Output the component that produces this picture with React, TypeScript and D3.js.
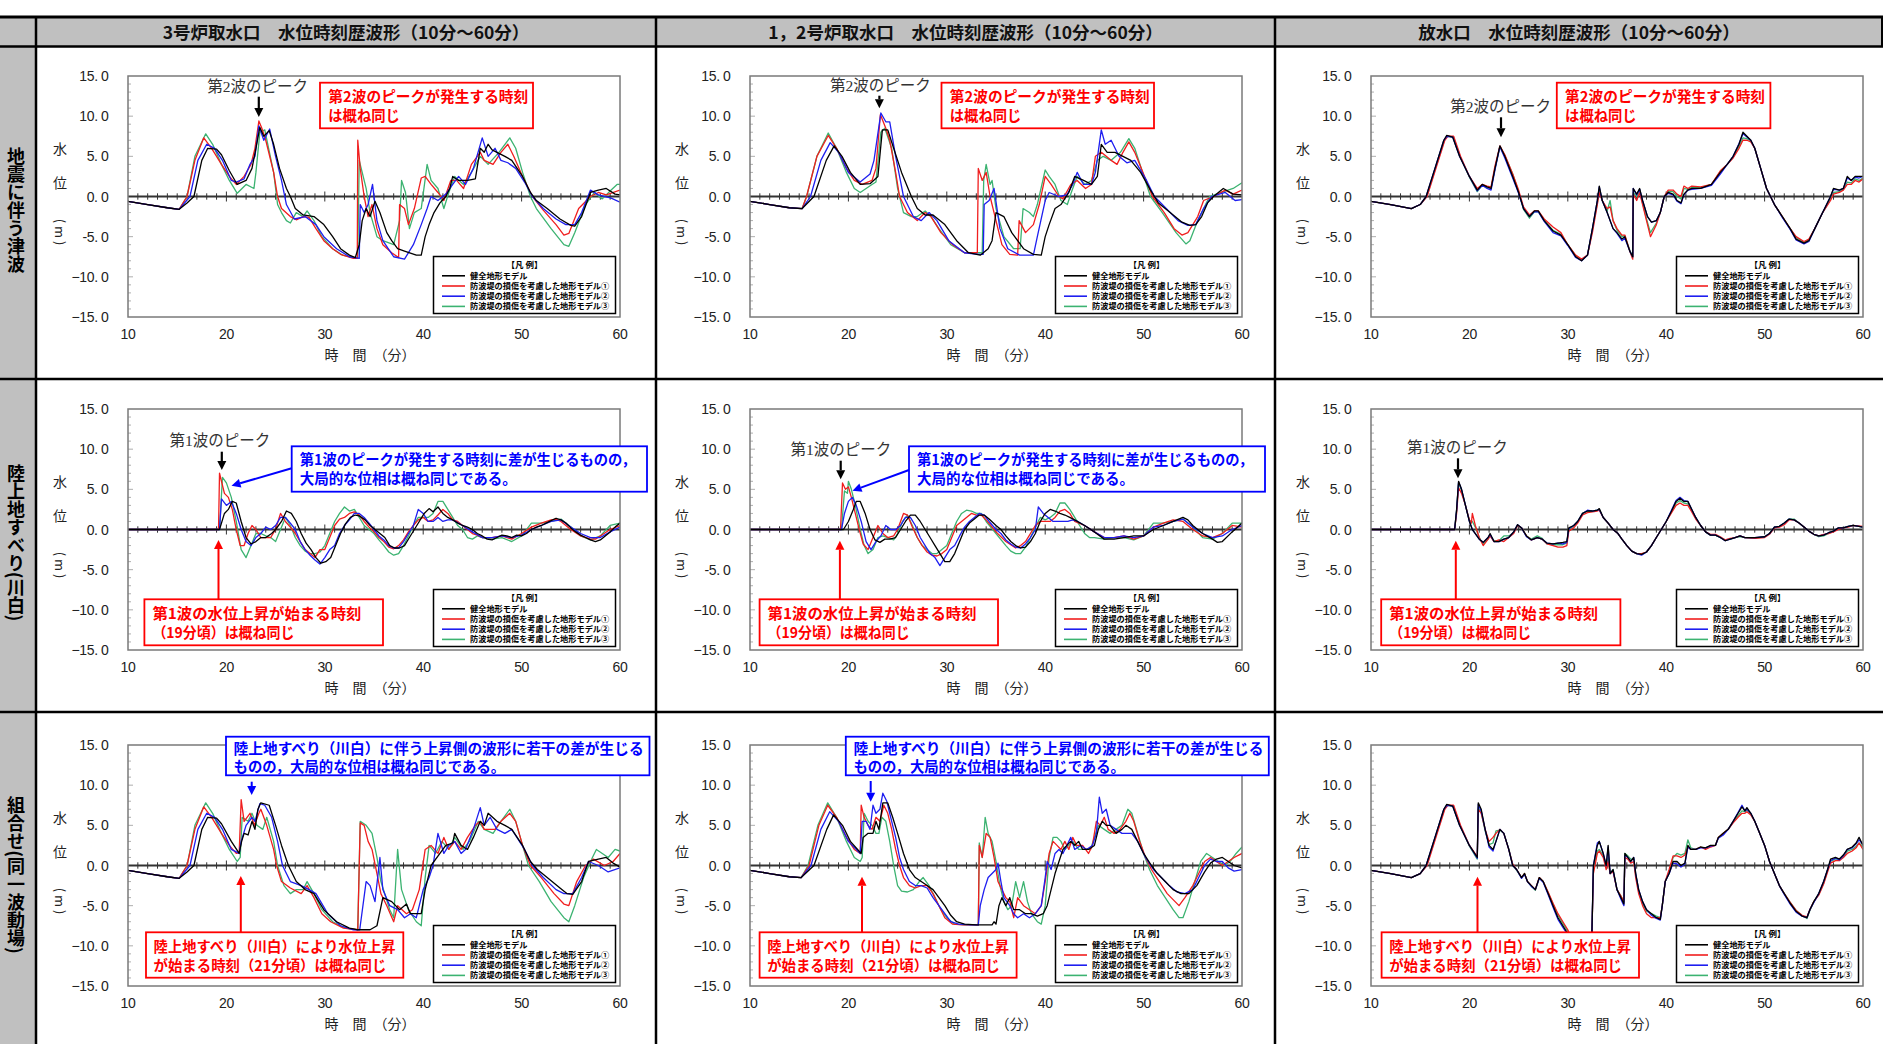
import React from 'react';
import * as d3 from 'd3';

const W = 1883, H = 1044;
const PW = 492, PH = 241;
const colX = [128, 750, 1371];
const rowY = [76, 409, 745];
const colLines = [36, 656, 1275];

const seriesNames = ['健全地形モデル', '防波堤の損傷を考慮した地形モデル①', '防波堤の損傷を考慮した地形モデル②', '防波堤の損傷を考慮した地形モデル③'];
const seriesColors = ['#000000', '#f01e1e', '#1e1ef0', '#3cb371'];
const drawOrder = [3, 1, 2, 0];
const yTickValues = [15, 10, 5, 0, -5, -10, -15];
const yTickLabels = ['15. 0', '10. 0', '5. 0', '0. 0', '-5. 0', '−10. 0', '−15. 0'];
const xTickValues = [10, 20, 30, 40, 50, 60];
const columnTitles = ['3号炉取水口　水位時刻歴波形（10分～60分）', '1，2号炉取水口　水位時刻歴波形（10分～60分）', '放水口　水位時刻歴波形（10分～60分）'];
const rowTitles = ['地震に伴う津波', '陸上地すべり(川白)', '組合せ(同一波動場)'];

// ---- Row 1: 地震に伴う津波 ----
const p1Black = [10,-0.6, 12,-1.0, 14,-1.4, 15.2,-1.6, 16,-0.8, 16.7,0, 17.5,4.5, 18.1,6.0, 19.0,5.9, 19.5,5.2, 20.3,3.2, 21.1,1.5, 22.0,2.0, 22.6,3.5, 23.0,6.0, 23.4,8.6, 23.8,7.5, 24.35,8.2, 24.8,6.5, 25.4,3.5, 26.1,1.0, 26.5,0, 27.0,-1.5, 27.8,-2.3, 28.9,-2.5, 29.9,-3.5, 30.8,-5.0, 31.6,-6.5, 32.5,-7.3, 33.1,-7.6, 33.5,-6.0, 33.8,-3.0, 34.2,-1.5, 34.6,-2.5, 35.1,-0.6, 35.6,-2.0, 36.3,-4.5, 36.8,-5.5, 37.4,-6.5, 38.1,-6.8, 39.3,-7.3, 39.8,-7.3, 40.2,-5.0, 40.6,-3.5, 41.1,-2.0, 41.7,-0.8, 42.3,0, 42.7,1.0, 43.0,2.5, 43.6,2.0, 44.5,2.0, 45.3,2.2, 45.8,6.0, 46.2,5.5, 46.6,6.5, 47.0,5.8, 47.5,5.5, 48.3,5.0, 49.0,4.5, 50.1,2.5, 50.9,0.5, 51.5,-0.5, 52.6,-1.5, 53.9,-2.8, 55.0,-3.6, 55.4,-3.7, 56.1,-2.5, 57.0,0.5, 57.8,0.8, 58.6,1.0, 59.5,0.3, 60,0.2];
const p1Red = [10,-0.6, 12,-1.0, 14,-1.4, 15.2,-1.6, 16.0,0, 16.8,4.5, 17.7,7.3, 18.5,6.0, 19.5,4.0, 20.3,2.5, 21.0,1.5, 21.8,2.5, 22.5,4.0, 22.9,6.0, 23.3,9.4, 23.6,8.5, 24.0,7.0, 24.8,3.0, 25.2,0, 25.6,-1.5, 26.5,-2.5, 27.1,-2.9, 27.8,-2.5, 28.4,-2.6, 29.1,-4.0, 29.9,-5.5, 30.8,-6.5, 31.6,-7.2, 32.9,-7.7, 33.3,-7.7, 33.35,7.0, 33.6,3.5, 34.0,0, 34.4,-2.5, 34.8,-1.0, 35.3,-4.0, 35.9,-6.0, 36.8,-7.0, 37.5,-7.6, 37.6,-1.0, 38.1,-1.5, 38.5,-3.5, 39.1,-1.5, 39.8,2.3, 40.2,2.5, 40.8,1.5, 41.5,0.5, 42.1,-0.5, 42.8,2.0, 43.4,2.0, 44.1,1.0, 44.9,4.0, 45.8,5.5, 46.2,4.5, 47.1,4.0, 47.9,5.5, 48.6,6.5, 49.2,5.0, 50.1,2.5, 51.1,0, 52.2,-1.7, 53.5,-3.5, 54.3,-4.8, 54.8,-4.6, 55.8,-1.5, 57.0,0, 57.8,0.5, 58.6,0.2, 60,0.8];
const p1Blue = [10,-0.6, 12,-1.0, 14,-1.4, 15.2,-1.6, 16.3,0, 17.1,4.5, 18.0,6.5, 18.8,6.0, 19.6,4.5, 20.5,2.0, 21.0,1.8, 21.8,2.2, 22.4,4.0, 22.9,5.0, 23.3,8.8, 23.8,7.0, 24.4,8.4, 25.0,5.0, 25.6,2.0, 26.1,-1.0, 26.9,-2.8, 28.0,-2.5, 29.1,-3.5, 29.9,-5.0, 31.2,-6.5, 32.5,-7.5, 33.5,-7.7, 33.6,-1.0, 34.0,-2.0, 34.4,-1.0, 34.85,1.5, 35.3,-3.0, 35.9,-5.5, 37.0,-7.5, 38.1,-7.8, 39.0,-6.0, 39.8,-3.5, 40.4,-1.5, 40.8,0, 41.5,-0.5, 42.3,0.3, 43.0,1.5, 43.6,2.5, 44.3,1.5, 45.1,3.5, 46.0,7.3, 46.6,5.0, 47.3,6.0, 47.9,4.5, 48.6,4.2, 49.4,3.5, 50.3,1.8, 51.1,0, 52.2,-1.5, 53.5,-2.8, 54.5,-3.5, 55.4,-3.5, 56.1,-2.0, 57.0,0.8, 57.8,0.2, 59.1,-0.2, 60,-0.7];
const p1Green = [10,-0.6, 12,-1.0, 14,-1.4, 15.2,-1.6, 16.0,0, 16.8,5.0, 17.9,7.8, 18.6,6.5, 19.5,4.0, 20.3,2.0, 21.1,0.4, 22.0,1.5, 22.8,1.0, 23.0,3.0, 23.4,8.0, 23.9,8.3, 24.8,3.0, 25.2,-1.0, 25.6,-2.0, 26.1,-3.0, 26.5,-3.3, 27.1,-2.0, 27.8,-2.5, 28.2,-1.8, 28.9,-3.0, 29.7,-5.0, 30.8,-6.5, 31.8,-7.3, 32.9,-7.6, 33.35,-7.6, 33.5,4.5, 33.8,3.0, 34.2,1.0, 34.6,-2.0, 35.3,-5.0, 35.9,-5.5, 37.0,-6.0, 37.6,-3.0, 37.8,2.0, 38.2,0.5, 38.6,-4.0, 39.1,-2.0, 39.8,-1.5, 40.4,4.0, 40.8,2.0, 41.5,1.0, 42.1,-1.5, 42.6,0.5, 43.2,2.5, 44.1,1.5, 44.9,3.0, 45.8,5.0, 46.6,4.0, 47.7,5.5, 48.8,7.3, 49.4,6.0, 50.1,3.0, 50.9,0, 51.5,-1.5, 53.0,-4.0, 54.3,-6.0, 54.8,-6.2, 55.4,-4.5, 56.5,-1.0, 57.4,0.5, 58.2,-0.3, 59.1,0.8, 59.7,1.5, 60,1.5];

const p2Black = [10,-0.6, 12,-1.0, 14,-1.4, 15.3,-1.5, 16.5,0, 17.75,4.5, 18.55,6.3, 19.35,5.0, 20.2,3.0, 21.2,1.5, 22.2,1.6, 23.0,2.5, 23.45,8.3, 24.0,8.3, 24.6,6.0, 25.4,3.0, 26.4,0, 27.0,-1.5, 27.8,-2.3, 28.6,-2.3, 29.8,-3.5, 31.0,-5.5, 32.2,-7.0, 33.4,-7.3, 34.2,-6.5, 34.6,-5.5, 35.0,-2.0, 35.8,-2.5, 36.6,-4.5, 37.8,-6.5, 38.8,-7.2, 39.6,-7.3, 40.0,-5.0, 40.4,-3.5, 41.0,-1.5, 41.6,-1.0, 42.4,0.5, 43.0,2.5, 43.9,2.0, 44.7,1.5, 45.3,2.5, 45.7,6.5, 46.3,5.5, 47.1,5.5, 47.9,5.0, 48.7,4.5, 49.7,3.0, 50.7,0.8, 51.5,-0.8, 52.7,-2.0, 53.9,-3.2, 54.7,-3.6, 55.3,-3.5, 55.9,-2.5, 56.5,-0.8, 57.1,0, 58.1,1.0, 59.1,0.3, 60,0.2];
const p2Red = [10,-0.6, 12,-1.0, 14,-1.4, 15.3,-1.5, 15.75,0, 16.8,5.0, 17.95,7.6, 18.8,6.0, 19.8,3.5, 20.6,2.0, 21.4,1.5, 22.4,2.0, 22.8,3.5, 23.25,10.2, 23.8,8.5, 24.2,7.0, 24.8,3.0, 25.2,0, 26.0,-2.0, 27.0,-3.0, 27.8,-2.0, 28.4,-2.5, 29.4,-4.5, 30.6,-6.0, 31.8,-7.0, 33.1,-7.0, 33.2,3.5, 33.6,2.0, 34.0,3.0, 34.4,0, 35.0,-3.0, 35.6,-6.0, 36.4,-7.2, 37.2,-7.3, 37.35,-3.0, 38.0,-4.5, 38.8,-3.5, 39.4,-1.0, 40.0,2.5, 40.6,1.5, 41.4,0, 41.8,-0.3, 42.6,1.5, 43.25,2.0, 44.1,1.0, 44.7,1.5, 45.1,5.0, 45.7,5.5, 46.7,4.5, 47.3,4.0, 47.9,5.5, 48.5,6.8, 49.1,5.5, 50.1,2.5, 50.9,0, 52.1,-2.0, 53.1,-4.0, 53.9,-4.8, 54.5,-4.5, 55.5,-2.5, 56.1,-0.5, 57.1,0, 58.3,0.8, 59.1,0.3, 60,0.8];
const p2Blue = [10,-0.6, 12,-1.0, 14,-1.4, 15.3,-1.5, 16.15,0, 17.2,4.5, 18.15,6.7, 19.0,5.5, 20.0,3.0, 21.2,1.8, 22.2,2.8, 22.6,4.5, 23.3,10.4, 23.8,9.3, 24.2,9.3, 24.8,5.0, 25.2,2.5, 25.6,0, 26.6,-2.5, 27.4,-3.0, 28.2,-2.0, 29.0,-3.0, 30.2,-5.5, 31.8,-7.0, 33.2,-7.2, 33.7,-7.2, 33.8,-1.0, 34.3,-0.5, 34.8,1.0, 35.4,-4.0, 36.2,-6.5, 37.4,-7.3, 38.8,-7.3, 39.2,-5.0, 40.0,-0.5, 40.4,0.5, 41.4,0, 42.2,0.2, 42.8,1.5, 43.25,3.0, 43.9,1.5, 44.7,1.5, 45.1,3.0, 45.7,8.3, 46.1,6.5, 46.7,7.0, 47.5,5.0, 48.3,4.2, 49.1,4.5, 50.3,2.0, 51.1,0, 52.3,-1.5, 53.5,-3.0, 54.5,-3.6, 55.3,-3.5, 56.1,-1.5, 56.9,0, 58.3,0.5, 59.3,-0.5, 60,-0.4];
const p2Green = [10,-0.6, 12,-1.0, 14,-1.4, 15.3,-1.5, 15.75,0, 16.8,5.0, 17.95,7.9, 18.8,6.0, 19.8,3.0, 20.6,1.0, 21.2,0.5, 22.4,1.5, 22.8,1.8, 23.3,8.0, 23.7,8.5, 24.4,6.0, 25.0,1.0, 25.6,-2.0, 26.4,-2.5, 27.0,-2.5, 27.8,-1.8, 28.4,-2.5, 29.2,-4.0, 30.4,-6.0, 31.8,-7.0, 33.6,-7.0, 33.75,2.0, 34.0,4.0, 34.4,1.5, 34.6,2.0, 35.0,-1.5, 35.8,-5.0, 36.8,-6.5, 37.45,-6.5, 37.75,-1.5, 38.4,-2.0, 38.8,-2.5, 39.2,-1.0, 40.0,3.3, 40.4,2.5, 41.0,1.5, 41.6,-0.5, 42.25,-1.0, 42.65,0.5, 43.25,2.5, 44.05,1.5, 44.7,2.0, 45.3,4.5, 45.9,5.0, 46.7,4.5, 47.65,5.5, 48.5,7.2, 49.1,6.0, 49.9,3.0, 50.7,0, 51.9,-2.0, 53.3,-4.5, 54.3,-5.9, 54.7,-5.5, 55.5,-3.0, 56.7,0, 57.9,0.5, 59.1,1.0, 60,1.7];

const p3Black = [10,-0.6, 12,-1.0, 14.1,-1.5, 15.0,-1.0, 15.6,0, 16.5,3.5, 17.4,7.0, 17.7,7.6, 18.3,7.4, 19.0,5.0, 20.0,2.5, 20.8,0.8, 21.3,1.5, 21.8,1.2, 22.2,1.0, 22.6,3.5, 23.1,6.3, 23.6,5.0, 24.4,2.5, 25.0,0.5, 25.5,-1.5, 26.1,-2.5, 26.6,-1.8, 27.0,-1.8, 27.6,-3.0, 28.5,-4.3, 29.3,-4.8, 30.0,-6.0, 30.8,-7.5, 31.4,-8.0, 32.0,-7.3, 32.5,-4.0, 33.0,-0.5, 33.2,1.3, 33.5,-0.5, 34.0,-2.0, 34.6,-4.0, 35.0,-4.5, 35.5,-5.3, 35.8,-5.0, 36.3,-6.8, 36.6,-7.5, 36.65,1.0, 37.0,0.3, 37.3,1.0, 37.6,-0.5, 38.1,-2.5, 38.5,-3.2, 39.0,-3.0, 39.4,-2.0, 39.8,0, 40.2,0.5, 40.7,0.3, 41.1,-0.5, 41.5,-0.8, 41.8,0.3, 42.2,0.8, 42.6,1.0, 43.5,1.0, 44.6,1.5, 45.5,3.0, 46.2,4.0, 46.8,5.0, 47.4,6.5, 47.8,8.0, 48.2,7.5, 48.6,7.0, 49.0,6.0, 49.6,3.5, 50.2,1.0, 51.0,-1.0, 51.8,-2.5, 52.6,-4.0, 53.2,-5.3, 54.0,-5.8, 54.5,-5.5, 55.1,-4.0, 55.9,-2.0, 56.7,0, 57.0,1.0, 57.6,0.8, 58.0,1.0, 58.4,2.5, 58.8,2.0, 59.2,2.5, 59.6,2.5, 60,2.5];
const p3Red = [10,-0.6, 12,-1.0, 14.1,-1.5, 15.0,-1.0, 15.7,0, 16.6,3.5, 17.5,7.0, 17.8,7.5, 18.4,7.5, 19.1,5.0, 20.0,2.5, 20.8,1.0, 21.3,1.5, 21.8,1.3, 22.2,1.2, 22.6,3.8, 23.1,6.3, 23.6,5.2, 24.4,2.8, 25.0,0.8, 25.5,-1.3, 26.1,-2.3, 26.6,-1.8, 27.0,-1.8, 27.6,-2.8, 28.5,-3.8, 29.3,-4.5, 30.0,-6.0, 30.8,-7.3, 31.4,-7.8, 32.0,-7.3, 32.5,-4.5, 33.0,-1.0, 33.2,0.5, 33.5,-0.5, 34.0,-1.5, 34.3,-1.3, 34.6,-3.0, 35.0,-4.0, 35.5,-4.8, 35.8,-4.8, 36.3,-6.8, 36.6,-7.8, 36.65,0.3, 37.0,-0.5, 37.3,0.5, 37.6,-1.0, 38.0,-3.0, 38.4,-5.0, 39.0,-3.5, 39.4,-2.0, 39.8,0, 40.2,0.8, 40.7,0.8, 41.1,0.3, 41.5,0, 41.8,1.3, 42.2,1.0, 42.6,1.3, 43.5,1.2, 44.6,1.5, 45.5,3.2, 46.2,4.0, 46.8,4.8, 47.4,6.0, 47.8,7.0, 48.2,7.0, 48.6,6.8, 49.0,6.0, 49.6,3.5, 50.2,1.0, 51.0,-1.0, 51.8,-2.5, 52.6,-4.0, 53.2,-5.0, 54.0,-5.6, 54.5,-5.3, 55.1,-4.0, 55.9,-2.0, 56.7,-0.5, 57.0,0.3, 57.6,0.5, 58.0,0.8, 58.4,1.5, 58.8,1.5, 59.2,2.0, 59.6,1.8, 60,2.2];
const p3Blue = [10,-0.6, 12,-1.0, 14.1,-1.5, 15.0,-1.0, 15.6,0, 16.5,3.5, 17.4,7.0, 17.7,7.5, 18.3,7.4, 19.0,5.0, 20.0,2.5, 20.8,0.7, 21.3,1.4, 21.8,1.0, 22.2,0.8, 22.6,3.3, 23.1,6.2, 23.6,4.8, 24.4,2.3, 25.0,0.4, 25.5,-1.5, 26.1,-2.5, 26.6,-1.9, 27.0,-1.9, 27.6,-3.1, 28.5,-4.5, 29.3,-4.9, 30.0,-6.1, 30.8,-7.6, 31.4,-8.0, 32.0,-7.3, 32.5,-4.0, 33.0,-0.5, 33.2,1.2, 33.5,-0.5, 34.0,-2.0, 34.6,-4.0, 35.0,-4.6, 35.5,-5.5, 35.8,-5.2, 36.3,-6.8, 36.6,-7.5, 36.65,1.0, 37.0,0.2, 37.3,0.9, 37.6,-0.5, 38.1,-2.5, 38.5,-3.2, 39.0,-3.0, 39.4,-2.0, 39.8,0, 40.2,0.4, 40.7,0.2, 41.1,-0.6, 41.5,-0.9, 41.8,0.2, 42.2,0.8, 42.6,0.9, 43.5,1.0, 44.6,1.4, 45.5,2.8, 46.2,4.0, 46.8,5.0, 47.4,6.6, 47.8,7.8, 48.2,7.4, 48.6,7.0, 49.0,6.0, 49.6,3.5, 50.2,1.0, 51.0,-1.0, 51.8,-2.6, 52.6,-4.1, 53.2,-5.4, 54.0,-5.9, 54.5,-5.6, 55.1,-4.0, 55.9,-2.0, 56.7,0, 57.0,0.9, 57.6,0.8, 58.0,1.0, 58.4,2.3, 58.8,2.0, 59.2,2.4, 59.6,2.3, 60,2.5];
const p3Green = [10,-0.6, 12,-1.0, 14.1,-1.5, 15.0,-1.0, 15.65,0, 16.55,3.5, 17.45,7.0, 17.75,7.5, 18.35,7.4, 19.05,5.0, 20.0,2.4, 20.8,0.6, 21.3,1.4, 21.8,1.1, 22.2,1.0, 22.6,3.5, 23.1,6.2, 23.6,5.1, 24.4,2.8, 25.0,0.6, 25.5,-1.6, 26.1,-2.7, 26.6,-1.9, 27.0,-1.9, 27.6,-3.0, 28.5,-4.2, 29.3,-4.7, 30.0,-6.0, 30.8,-7.4, 31.4,-7.9, 32.0,-7.3, 32.5,-4.2, 33.0,-0.8, 33.2,0.8, 33.5,-0.5, 34.0,-1.8, 34.3,-0.5, 34.6,-3.0, 35.0,-4.2, 35.5,-5.0, 35.8,-4.9, 36.3,-6.7, 36.6,-7.6, 36.65,0.5, 37.0,0, 37.3,0.6, 37.6,-0.8, 38.0,-2.8, 38.4,-4.5, 39.0,-3.3, 39.4,-2.0, 39.8,0, 40.2,0.6, 40.7,0.6, 41.1,0, 41.5,-0.3, 41.8,1.0, 42.2,0.9, 42.6,1.1, 43.5,1.1, 44.6,1.5, 45.5,3.1, 46.2,4.0, 46.8,4.9, 47.4,6.2, 47.8,7.3, 48.2,7.2, 48.6,6.9, 49.0,6.0, 49.6,3.5, 50.2,1.0, 51.0,-1.0, 51.8,-2.5, 52.6,-4.0, 53.2,-5.1, 54.0,-5.7, 54.5,-5.4, 55.1,-4.0, 55.9,-2.0, 56.7,-0.3, 57.0,0.5, 57.6,0.6, 58.0,0.9, 58.4,1.8, 58.8,1.7, 59.2,2.2, 59.6,2.0, 60,2.3];

// ---- Row 2: 陸上地すべり（川白） ----
const p4Black = [10,0, 19.3,0, 19.8,2.0, 20.2,2.5, 20.6,3.5, 21.0,3.3, 21.5,1.0, 22.0,-1.0, 22.5,-1.8, 23.0,-1.5, 23.5,-1.0, 24.0,-1.0, 24.6,-0.5, 25.0,0, 25.6,1.0, 26.1,2.3, 26.6,2.0, 27.1,1.0, 27.6,-0.5, 28.1,-1.7, 28.6,-2.5, 29.1,-3.5, 29.6,-4.2, 30.1,-4.0, 30.6,-3.5, 31.1,-2.0, 31.6,-0.5, 32.1,0.7, 32.6,1.5, 33.1,1.8, 33.5,1.7, 34.1,1.2, 34.6,0.5, 35.1,0, 35.6,-0.5, 36.1,-1.0, 36.6,-2.0, 37.1,-2.3, 37.6,-2.3, 38.1,-2.0, 38.6,-1.0, 39.1,0, 39.6,1.0, 40.1,2.0, 40.6,2.6, 41.0,2.2, 41.5,2.8, 42.0,2.0, 42.5,1.5, 43.0,1.2, 43.5,0.8, 44.0,0.5, 44.5,0.3, 45.0,0, 45.5,-0.5, 46.0,-0.8, 46.5,-1.2, 47.0,-1.3, 47.5,-1.0, 48.0,-0.7, 48.5,-0.8, 49.0,-1.0, 49.5,-0.7, 50.0,-0.8, 50.5,-0.5, 51.0,0, 51.5,0.3, 52.0,0.5, 52.5,0.8, 53.0,1.1, 53.5,1.4, 54.0,1.2, 54.5,0.8, 55.0,0.2, 55.5,-0.3, 56.0,-0.7, 56.5,-1.0, 57.0,-1.3, 57.5,-1.5, 58.0,-1.3, 58.5,-0.8, 59.0,-0.3, 59.5,0.3, 60,0.8];
const p4Red = [10,0, 19.2,0, 19.3,7.0, 19.8,4.5, 20.2,4.0, 20.6,2.5, 21.0,0, 21.4,-2.0, 21.8,-2.0, 22.2,-0.5, 22.6,0.5, 23.0,0, 23.5,-1.0, 24.0,-1.0, 24.5,-1.0, 25.0,0, 25.5,2.0, 26.0,1.0, 26.5,0.3, 27.0,-0.5, 27.5,-1.5, 28.0,-2.5, 28.5,-3.0, 29.0,-3.5, 29.5,-2.5, 30.0,-2.5, 30.5,-1.0, 31.0,0.5, 31.5,1.3, 32.0,1.5, 32.5,2.0, 33.0,2.2, 33.5,1.8, 34.0,1.0, 34.5,0.3, 35.0,-0.3, 35.5,-1.0, 36.0,-1.5, 36.5,-2.2, 37.0,-2.4, 37.5,-2.0, 38.0,-1.3, 38.5,-0.3, 39.0,0.5, 39.5,1.2, 40.0,1.5, 40.5,1.0, 41.0,1.2, 41.5,1.8, 42.0,2.5, 42.5,2.0, 43.0,1.2, 43.5,1.0, 44.0,0.5, 44.5,0, 45.0,-0.5, 45.5,-0.7, 46.0,-1.0, 47.0,-1.0, 48.0,-0.8, 49.0,-1.2, 50.0,-0.5, 51.0,0.3, 52.0,0.8, 53.0,1.2, 53.5,1.3, 54.0,1.0, 55.0,0, 56.0,-0.8, 57.0,-1.2, 57.5,-1.2, 58.0,-0.8, 59.0,0, 60,0.5];
const p4Blue = [10,0, 19.3,0, 19.5,3.8, 20.0,3.0, 20.5,3.5, 21.0,2.0, 21.5,0, 22.0,-1.5, 22.5,-2.0, 23.0,-1.0, 23.5,-0.5, 24.0,0.3, 24.5,0, 25.0,0.5, 25.5,1.5, 26.0,1.5, 26.5,0.8, 27.0,0, 27.5,-1.5, 28.0,-2.5, 28.5,-3.2, 29.0,-3.8, 29.5,-4.3, 30.0,-3.5, 30.5,-2.5, 31.0,-2.0, 31.5,-0.5, 32.0,0.5, 32.5,1.2, 33.0,2.0, 33.5,2.0, 34.0,1.5, 34.5,0.8, 35.0,0, 35.5,-0.8, 36.0,-1.3, 36.5,-2.0, 37.0,-2.3, 37.5,-2.3, 38.0,-1.5, 38.5,-0.5, 39.0,0.5, 39.5,2.5, 40.0,2.0, 40.5,1.0, 41.0,1.0, 41.5,1.5, 42.0,1.0, 42.5,1.2, 43.0,1.2, 44.0,0.5, 45.0,-0.3, 46.0,-1.0, 47.0,-1.0, 48.0,-0.8, 49.0,-1.0, 50.0,-0.7, 51.0,0, 52.0,0.5, 53.0,1.0, 54.0,1.2, 55.0,0.3, 56.0,-0.5, 57.0,-1.0, 58.0,-1.0, 59.0,-0.3, 60,0.3];
const p4Green = [10,0, 19.3,0, 19.6,6.5, 20.0,5.8, 20.5,4.0, 21.0,1.0, 21.5,-2.5, 22.0,-3.5, 22.5,-2.0, 23.0,-0.5, 23.5,-0.5, 24.0,-0.8, 24.5,-1.0, 25.0,-1.5, 25.5,0, 26.0,1.5, 26.5,0.5, 27.0,-1.0, 27.5,-2.0, 28.0,-2.7, 28.5,-3.0, 29.0,-3.0, 29.5,-2.8, 30.0,-2.0, 30.5,-0.5, 31.0,1.0, 31.5,2.0, 32.0,2.8, 32.5,2.3, 33.0,2.5, 33.5,1.5, 34.0,0.5, 34.5,0, 35.0,-0.5, 35.5,-1.3, 36.0,-2.0, 36.5,-2.8, 37.0,-3.2, 37.5,-3.0, 38.0,-2.0, 38.5,-0.8, 39.0,0.5, 39.5,1.5, 40.0,1.5, 40.5,1.5, 41.0,2.0, 41.5,3.5, 42.0,3.5, 42.5,2.5, 43.0,1.5, 43.5,0.5, 44.0,0, 44.5,-1.0, 45.0,-1.2, 45.5,-0.8, 46.0,-1.0, 47.0,-1.2, 48.0,-1.0, 49.0,-1.5, 50.0,-0.8, 51.0,0.8, 52.0,0.8, 53.0,1.0, 54.0,1.3, 55.0,0.3, 56.0,-0.8, 57.0,-1.3, 58.0,-0.8, 59.0,0.5, 60,0.8];

const p5Black = [10,0, 19.5,0, 20.0,1.0, 20.5,2.5, 20.8,3.5, 21.2,3.5, 21.7,2.0, 22.2,0, 22.7,-1.3, 23.2,-1.6, 23.7,-1.2, 24.2,-1.2, 24.8,-1.0, 25.3,0, 25.8,1.0, 26.3,1.8, 26.8,1.8, 27.3,1.0, 27.8,0, 28.3,-1.0, 28.8,-2.0, 29.3,-3.0, 29.8,-4.0, 30.3,-4.0, 30.8,-3.0, 31.3,-1.5, 31.8,0, 32.3,0.8, 32.8,1.3, 33.3,1.8, 33.8,1.8, 34.3,1.3, 35.0,0.5, 35.5,0, 36.0,-0.8, 36.5,-1.5, 37.0,-2.0, 37.5,-2.3, 38.0,-2.2, 38.5,-1.5, 39.0,-0.5, 39.5,1.0, 40.0,2.0, 40.5,2.5, 41.0,2.3, 41.5,2.0, 42.0,1.8, 42.5,1.5, 43.0,1.2, 44.0,0.5, 45.0,-0.3, 46.0,-1.2, 47.0,-1.2, 48.0,-1.0, 49.0,-0.8, 50.0,-0.8, 51.0,0, 52.0,0.5, 53.0,1.0, 54.0,1.5, 54.5,1.2, 55.0,0.5, 56.0,-0.5, 57.0,-1.2, 57.5,-1.6, 58.0,-1.5, 59.0,-0.3, 60,0.8];
const p5Red = [10,0, 19.2,0, 19.4,5.8, 19.7,5.0, 20.0,5.3, 20.3,4.0, 20.7,2.0, 21.1,0, 21.5,-1.8, 22.0,-2.5, 22.5,-1.0, 23.0,0.5, 23.5,-0.5, 24.0,-1.0, 24.6,-0.8, 25.0,0, 25.6,2.0, 26.0,1.8, 26.5,0.3, 27.0,-1.0, 27.5,-2.0, 28.0,-2.8, 28.5,-3.2, 29.0,-3.3, 29.5,-3.0, 30.0,-2.5, 30.5,-1.0, 31.0,0.5, 31.5,1.0, 32.0,1.5, 32.5,2.0, 33.0,1.8, 33.5,1.8, 34.0,1.2, 35.0,-0.3, 36.0,-1.5, 37.0,-2.3, 37.5,-2.0, 38.0,-1.5, 39.0,0.5, 39.5,1.0, 40.0,1.0, 40.5,1.0, 41.0,1.5, 41.5,2.3, 42.0,2.5, 42.5,2.0, 43.0,1.0, 44.0,0.5, 45.0,-0.3, 46.0,-1.0, 47.0,-1.0, 48.0,-0.8, 49.0,-1.2, 50.0,-0.8, 51.0,0.3, 52.0,0.8, 53.0,1.2, 54.0,1.0, 55.0,0, 56.0,-0.8, 57.0,-1.0, 58.0,-0.5, 59.0,0.5, 60,0.3];
const p5Blue = [10,0, 19.3,0, 19.6,2.0, 20.0,3.5, 20.4,4.0, 20.8,3.0, 21.3,1.0, 21.8,-1.5, 22.3,-2.5, 22.8,-1.5, 23.3,-0.8, 23.8,0.5, 24.3,0, 24.8,0, 25.3,0.5, 25.8,1.5, 26.3,1.5, 26.8,0.5, 27.3,-1.0, 27.8,-2.0, 28.3,-3.0, 28.8,-3.5, 29.3,-4.5, 29.8,-3.5, 30.3,-2.5, 30.8,-2.0, 31.3,-0.8, 31.8,0.3, 32.3,1.0, 32.8,1.5, 33.3,2.0, 33.8,1.8, 34.3,1.0, 35.0,0, 35.5,-0.5, 36.0,-1.3, 36.5,-1.8, 37.0,-2.2, 37.5,-2.3, 38.0,-1.8, 38.5,-1.0, 39.0,0, 39.3,2.8, 39.8,2.0, 40.3,1.5, 40.8,1.0, 41.3,1.0, 41.8,1.0, 42.3,1.0, 42.8,1.2, 43.3,1.0, 44.0,0.5, 45.0,-0.3, 46.0,-1.0, 47.0,-1.0, 48.0,-0.8, 49.0,-1.0, 50.0,-0.8, 51.0,0.3, 52.0,0.5, 53.0,1.0, 54.0,1.3, 55.0,0.3, 56.0,-0.5, 57.0,-1.0, 58.0,-0.8, 59.0,0, 60,0.5];
const p5Green = [10,0, 19.3,0, 19.6,4.8, 19.9,4.5, 20.0,6.0, 20.3,5.0, 20.7,3.0, 21.2,0, 21.6,-2.0, 22.0,-3.0, 22.5,-2.5, 23.0,-1.0, 23.5,-0.8, 24.0,-1.0, 24.6,-1.3, 25.0,-0.5, 25.5,1.0, 26.0,1.8, 26.5,0.5, 27.0,-1.0, 27.5,-2.0, 28.0,-2.5, 28.5,-3.0, 29.0,-3.0, 29.5,-2.5, 30.0,-2.0, 30.5,-0.5, 31.0,1.0, 31.5,2.0, 32.0,2.4, 32.5,2.3, 33.0,2.0, 33.5,2.0, 34.0,1.0, 35.0,-0.5, 36.0,-2.0, 36.5,-2.7, 37.0,-3.0, 37.5,-3.0, 38.0,-2.2, 38.5,-1.0, 39.0,0.3, 39.5,1.5, 40.0,1.2, 40.5,1.5, 41.0,2.0, 41.5,3.3, 42.0,3.3, 42.5,2.5, 43.0,1.5, 43.5,0.5, 44.0,-0.5, 44.5,-1.0, 45.0,-1.0, 46.0,-1.2, 47.0,-1.0, 48.0,-1.0, 49.0,-1.3, 50.0,-0.8, 51.0,0.8, 52.0,0.8, 53.0,1.0, 54.0,1.3, 55.0,0.3, 56.0,-1.0, 57.0,-1.2, 58.0,-0.5, 59.0,0.8, 60,0.8];

const p6Black = [10,0, 18.5,0, 18.7,2.5, 18.9,6.0, 19.2,5.0, 19.6,3.0, 20.0,1.0, 20.3,0, 20.6,-0.5, 21.0,-1.2, 21.4,-1.6, 21.9,-1.0, 22.1,-0.5, 22.5,-1.5, 23.0,-1.5, 23.5,-1.2, 24.0,-1.0, 24.5,-0.3, 24.9,0.6, 25.3,0.2, 25.8,-0.8, 26.3,-1.3, 26.9,-1.0, 27.4,-1.2, 27.9,-1.7, 28.5,-1.8, 29.0,-1.7, 29.5,-1.6, 29.9,-1.5, 30.1,0.2, 30.6,0.5, 31.0,1.0, 31.5,2.0, 32.0,2.3, 32.5,2.3, 33.0,2.4, 33.2,2.6, 33.6,1.5, 34.1,0.8, 34.6,0, 35.1,-0.5, 35.5,-1.2, 36.0,-2.0, 36.5,-2.7, 37.0,-3.0, 37.5,-3.1, 38.0,-2.8, 38.5,-2.0, 39.0,-1.0, 39.5,0, 40.0,1.0, 40.5,2.2, 41.0,3.5, 41.4,3.9, 41.8,3.5, 42.2,3.5, 42.6,2.5, 43.0,1.5, 43.5,0.5, 44.0,-0.3, 44.5,-0.7, 45.0,-0.7, 45.5,-1.0, 46.0,-1.4, 46.5,-1.2, 47.0,-1.0, 47.5,-0.8, 48.0,-1.0, 49.0,-1.0, 50.0,-0.9, 50.5,-0.5, 51.0,0.3, 51.5,0.4, 52.0,0.8, 52.5,1.3, 53.0,1.2, 53.5,0.8, 54.0,0.3, 54.5,-0.2, 55.0,-0.6, 55.5,-0.8, 56.0,-0.7, 56.5,-0.4, 57.0,-0.2, 57.5,0.2, 58.0,0.2, 58.5,0.4, 59.0,0.5, 60,0.3];
const p6Red = [10,0, 18.5,0, 18.7,2.0, 18.9,5.2, 19.2,4.5, 19.6,3.0, 20.0,1.2, 20.2,0.8, 20.3,2.0, 20.6,0.5, 21.0,-1.0, 21.4,-2.0, 21.9,-1.2, 22.1,-0.8, 22.5,-1.5, 23.0,-1.3, 23.5,-1.5, 24.0,-1.0, 24.5,-0.5, 24.9,0.5, 25.3,0.2, 25.8,-0.8, 26.3,-1.3, 26.9,-1.0, 27.4,-1.2, 27.9,-1.8, 28.5,-2.0, 29.0,-2.2, 29.5,-2.2, 29.9,-2.0, 30.1,-0.2, 30.6,0.2, 31.0,0.8, 31.5,1.8, 32.0,2.1, 32.5,2.2, 33.0,2.3, 33.2,2.4, 33.6,1.5, 34.1,0.8, 34.6,0, 35.1,-0.5, 35.5,-1.2, 36.0,-2.0, 36.5,-2.7, 37.0,-3.0, 37.5,-3.0, 38.0,-2.8, 38.5,-2.0, 39.0,-1.0, 39.5,0, 40.0,1.0, 40.5,2.0, 41.0,3.0, 41.4,3.3, 41.8,3.0, 42.2,3.0, 42.6,2.2, 43.0,1.3, 43.5,0.5, 44.0,-0.3, 44.5,-0.6, 45.0,-0.6, 45.5,-0.9, 46.0,-1.3, 46.5,-1.1, 47.0,-1.0, 47.5,-0.8, 48.0,-1.0, 49.0,-1.1, 50.0,-1.0, 50.5,-0.6, 51.0,0.2, 51.5,0.3, 52.0,0.6, 52.5,1.2, 53.0,1.2, 53.5,0.8, 54.0,0.3, 54.5,-0.2, 55.0,-0.6, 55.5,-0.8, 56.0,-0.6, 56.5,-0.5, 57.0,-0.3, 57.5,0, 58.0,0.2, 58.5,0.3, 59.0,0.5, 60,0.4];
const p6Blue = [10,0, 18.5,0, 18.7,2.4, 18.9,5.9, 19.2,5.0, 19.6,3.0, 20.0,1.0, 20.3,0, 20.6,-0.5, 21.0,-1.2, 21.4,-1.6, 21.9,-1.0, 22.1,-0.6, 22.5,-1.5, 23.0,-1.5, 23.5,-1.2, 24.0,-1.0, 24.5,-0.3, 24.9,0.6, 25.3,0.2, 25.8,-0.9, 26.3,-1.3, 26.9,-1.0, 27.4,-1.2, 27.9,-1.7, 28.5,-1.8, 29.0,-1.7, 29.5,-1.8, 29.9,-1.6, 30.1,0.1, 30.6,0.5, 31.0,1.0, 31.5,2.0, 32.0,2.4, 32.5,2.3, 33.0,2.4, 33.2,2.5, 33.6,1.5, 34.1,0.8, 34.6,0, 35.1,-0.5, 35.5,-1.2, 36.0,-2.0, 36.5,-2.7, 37.0,-3.0, 37.5,-3.2, 38.0,-2.8, 38.5,-2.0, 39.0,-1.0, 39.5,0, 40.0,1.0, 40.5,2.3, 41.0,3.6, 41.4,4.0, 41.8,3.6, 42.2,3.5, 42.6,2.5, 43.0,1.5, 43.5,0.5, 44.0,-0.3, 44.5,-0.7, 45.0,-0.7, 45.5,-1.0, 46.0,-1.4, 46.5,-1.2, 47.0,-1.0, 47.5,-0.8, 48.0,-1.0, 49.0,-1.0, 50.0,-0.9, 50.5,-0.5, 51.0,0.3, 51.5,0.4, 52.0,0.8, 52.5,1.3, 53.0,1.2, 53.5,0.8, 54.0,0.3, 54.5,-0.2, 55.0,-0.6, 55.5,-0.8, 56.0,-0.7, 56.5,-0.4, 57.0,-0.2, 57.5,0.2, 58.0,0.2, 58.5,0.4, 59.0,0.5, 60,0.3];
const p6Green = [10,0, 18.5,0, 18.7,2.3, 18.9,5.8, 19.2,4.9, 19.6,3.0, 20.0,1.1, 20.3,1.0, 20.6,0.3, 21.0,-1.0, 21.4,-1.8, 21.9,-1.2, 22.1,-0.7, 22.5,-1.4, 23.0,-1.4, 23.5,-0.8, 24.0,-0.8, 24.5,-0.4, 24.9,0.5, 25.3,0.2, 25.8,-0.8, 26.3,-1.2, 26.9,-0.8, 27.4,-1.1, 27.9,-1.8, 28.5,-1.9, 29.0,-1.9, 29.5,-1.9, 29.9,-1.7, 30.1,0, 30.6,0.4, 31.0,1.0, 31.5,2.0, 32.0,2.3, 32.5,2.3, 33.0,2.4, 33.2,2.5, 33.6,1.5, 34.1,0.8, 34.6,0, 35.1,-0.5, 35.5,-1.2, 36.0,-2.0, 36.5,-2.7, 37.0,-3.0, 37.5,-3.1, 38.0,-2.8, 38.5,-2.0, 39.0,-1.0, 39.5,0, 40.0,1.0, 40.5,2.1, 41.0,3.3, 41.4,3.6, 41.8,3.3, 42.2,3.2, 42.6,2.4, 43.0,1.4, 43.5,0.5, 44.0,-0.3, 44.5,-0.7, 45.0,-0.7, 45.5,-1.0, 46.0,-1.3, 46.5,-1.2, 47.0,-1.0, 47.5,-0.9, 48.0,-1.0, 49.0,-1.1, 50.0,-0.9, 50.5,-0.5, 51.0,0.3, 51.5,0.4, 52.0,0.8, 52.5,1.3, 53.0,1.3, 53.5,0.8, 54.0,0.3, 54.5,-0.2, 55.0,-0.6, 55.5,-0.9, 56.0,-0.8, 56.5,-0.5, 57.0,-0.2, 57.5,0.1, 58.0,0.2, 58.5,0.4, 59.0,0.5, 60,0.3];

// ---- Row 3: 組合せ（同一波動場） ----
const p7Black = [10,-0.6, 12,-1.0, 14,-1.4, 15.2,-1.6, 16,-0.8, 16.7,0, 17.5,4.5, 18.1,6.0, 19.0,5.9, 19.5,5.2, 20.5,3.0, 21.3,1.5, 21.55,3.0, 21.8,4.0, 22.2,3.8, 22.6,5.5, 22.9,4.5, 23.2,7.0, 23.5,7.8, 24.35,7.5, 25.0,5.0, 25.6,2.5, 26.3,0, 27.1,-2.0, 28.0,-3.0, 28.9,-3.5, 29.9,-5.5, 31.2,-7.0, 32.5,-7.8, 33.4,-8.0, 34.6,-8.0, 35.3,-7.5, 35.9,-4.0, 36.8,-4.5, 37.6,-5.5, 38.3,-4.8, 38.7,-6.0, 39.8,-6.0, 40.2,-3.0, 40.8,0, 41.7,1.5, 42.3,2.5, 43.0,2.8, 43.2,4.0, 43.85,2.5, 44.5,2.0, 45.1,3.5, 45.8,5.5, 46.2,5.0, 46.6,6.5, 47.5,5.5, 48.3,5.0, 49.0,4.5, 50.1,2.5, 50.9,0.5, 51.6,-0.5, 52.6,-1.5, 53.9,-2.8, 54.6,-3.5, 55.2,-3.6, 56.1,-2.0, 56.8,0.5, 57.8,0.8, 58.6,1.0, 59.3,0.3, 60,-0.2];
const p7Red = [10,-0.6, 12,-1.0, 14,-1.4, 15.2,-1.6, 16.0,0, 16.8,4.5, 17.7,7.3, 18.5,6.0, 19.5,4.0, 20.3,2.5, 21.0,1.5, 21.3,1.6, 21.5,8.2, 21.8,5.5, 22.4,6.5, 22.85,5.0, 23.3,6.5, 23.5,7.0, 24.1,5.0, 24.8,2.0, 25.1,0, 25.6,-2.0, 26.5,-2.8, 27.6,-3.5, 28.2,-2.5, 28.9,-4.0, 29.7,-6.0, 30.6,-7.0, 31.9,-7.8, 33.35,-8.0, 33.6,5.3, 34.0,5.0, 34.4,3.0, 34.8,2.0, 35.3,-1.0, 35.7,-3.5, 36.3,-5.0, 37.0,-7.0, 37.4,-5.0, 38.3,-6.0, 38.9,-5.5, 39.6,-3.0, 40.2,2.0, 40.8,2.5, 41.5,1.5, 42.1,3.5, 42.6,2.0, 43.2,3.0, 43.85,2.0, 44.5,3.5, 45.3,5.0, 45.8,5.5, 46.2,4.5, 47.3,4.5, 47.9,5.5, 48.8,6.5, 49.4,5.5, 50.1,2.5, 50.9,0, 52.0,-1.5, 53.3,-3.5, 54.3,-4.8, 54.8,-5.0, 55.6,-2.0, 56.5,0, 57.3,0.8, 58.4,0, 59.3,0.5, 60,1.5];
const p7Blue = [10,-0.6, 12,-1.0, 14,-1.4, 15.2,-1.6, 16.3,0, 17.1,4.5, 18.0,6.5, 18.8,6.0, 19.6,4.5, 20.5,2.0, 21.3,1.5, 21.5,3.0, 22.0,5.0, 22.6,6.0, 22.9,5.5, 23.4,7.7, 23.9,7.5, 24.6,6.0, 25.2,3.0, 25.7,0, 26.5,-2.0, 27.6,-2.5, 28.4,-3.0, 29.1,-3.5, 30.3,-6.0, 31.6,-7.5, 32.9,-8.0, 33.55,-8.0, 34.2,-2.0, 34.6,-2.5, 35.1,-4.5, 35.6,1.0, 35.9,-3.0, 36.6,-5.0, 37.4,-5.5, 38.1,-6.5, 38.7,-6.0, 39.3,-6.5, 40.0,-3.0, 40.6,-1.5, 41.0,0, 41.25,2.0, 41.5,4.0, 42.1,1.5, 42.6,2.5, 43.2,3.0, 43.85,1.5, 44.3,2.0, 45.1,4.5, 45.8,7.2, 46.2,5.0, 46.8,6.0, 47.5,4.5, 48.3,4.0, 49.0,4.5, 50.3,2.0, 51.1,0, 52.2,-1.5, 53.5,-3.0, 54.3,-3.5, 55.2,-3.5, 56.1,-1.5, 56.8,0.5, 57.8,0, 58.8,-0.8, 60,-0.3];
const p7Green = [10,-0.6, 12,-1.0, 14,-1.4, 15.2,-1.6, 16.0,0, 16.8,5.0, 17.9,7.8, 18.6,6.5, 19.5,4.0, 20.3,2.0, 21.1,0.5, 21.4,1.0, 21.6,6.0, 22.2,5.5, 22.6,6.5, 23.1,5.0, 23.7,4.5, 24.1,6.0, 24.8,3.0, 25.2,0, 25.85,-2.5, 26.5,-3.5, 27.1,-3.0, 27.8,-3.0, 28.2,-2.0, 28.9,-3.5, 29.7,-5.5, 30.8,-7.0, 32.1,-7.8, 33.35,-8.0, 33.6,5.5, 34.2,5.0, 34.8,4.0, 35.3,1.0, 35.7,-2.0, 36.6,-5.5, 37.0,-6.5, 37.4,2.0, 37.8,-3.0, 38.5,-5.5, 39.3,-7.0, 39.8,-7.5, 40.2,-1.5, 40.6,2.5, 41.25,1.5, 41.9,3.0, 42.6,2.0, 43.2,3.5, 44.05,2.0, 44.7,3.0, 45.6,5.5, 46.2,4.5, 47.1,4.0, 47.9,5.5, 48.8,7.0, 49.4,5.5, 50.1,2.5, 50.7,0, 51.8,-2.0, 53.0,-4.5, 54.3,-6.5, 54.8,-7.0, 55.4,-5.0, 56.3,-1.5, 57.2,1.0, 57.6,2.0, 58.2,1.5, 58.8,1.0, 59.5,2.0, 60,1.8];

const p8Black = [10,-0.6, 12,-1.0, 14,-1.4, 15.2,-1.5, 16.5,0, 17.8,4.5, 18.5,6.3, 19.4,5.0, 20.2,3.0, 21.3,1.5, 21.5,3.5, 22.0,4.0, 22.5,4.0, 22.8,5.5, 23.1,4.5, 23.5,7.8, 24.0,7.8, 24.5,6.0, 25.0,4.0, 25.6,1.5, 26.2,-0.5, 26.8,-1.5, 27.4,-2.0, 28.0,-2.5, 28.6,-3.0, 29.2,-4.0, 29.8,-5.0, 30.4,-6.2, 31.0,-7.0, 31.8,-7.3, 33.0,-7.4, 34.6,-7.4, 34.8,-7.0, 35.0,-7.3, 35.3,-5.0, 35.6,-4.0, 36.0,-5.0, 36.4,-4.0, 36.8,-5.5, 37.4,-5.5, 38.0,-6.0, 38.6,-6.0, 39.2,-6.3, 39.8,-6.0, 40.2,-5.0, 40.6,-3.0, 41.0,-1.0, 41.4,0.5, 41.8,2.0, 42.2,2.5, 42.6,3.0, 43.0,2.5, 43.4,3.0, 43.8,2.0, 44.4,2.0, 45.0,2.5, 45.4,4.5, 45.8,5.5, 46.2,5.0, 46.6,5.0, 47.2,4.0, 47.8,4.5, 48.2,5.0, 48.8,4.5, 49.4,3.0, 50.0,1.5, 50.8,0, 51.4,-1.0, 52.2,-2.0, 53.0,-3.0, 53.8,-3.5, 54.6,-3.5, 55.4,-2.5, 56.2,-0.8, 56.8,0.3, 57.4,0.8, 58.0,1.0, 58.6,0.5, 59.2,0, 60,-0.3];
const p8Red = [10,-0.6, 12,-1.0, 14,-1.4, 15.2,-1.5, 16.0,0, 17.0,5.0, 17.9,7.5, 18.8,6.0, 19.8,3.5, 20.6,2.0, 21.2,1.5, 21.3,7.5, 21.6,6.0, 22.0,5.0, 22.4,4.5, 22.8,6.0, 23.2,5.5, 23.6,7.5, 24.0,6.5, 24.4,4.5, 24.8,2.0, 25.2,0, 25.6,-1.5, 26.2,-2.5, 26.8,-2.8, 27.4,-2.5, 28.0,-2.5, 28.6,-3.5, 29.2,-5.0, 29.8,-6.5, 30.6,-7.3, 31.6,-7.4, 33.2,-7.4, 33.3,2.5, 33.6,1.0, 34.0,4.0, 34.4,3.5, 34.8,1.0, 35.2,-2.0, 35.6,-3.0, 36.0,-4.0, 36.4,-4.5, 36.8,-6.5, 37.2,-4.0, 37.8,-5.0, 38.4,-5.5, 39.0,-6.0, 39.6,-5.0, 40.0,-2.0, 40.4,1.5, 40.8,3.0, 41.2,2.5, 41.6,2.0, 42.0,3.0, 42.4,2.0, 42.8,3.5, 43.2,2.5, 43.8,2.5, 44.4,1.5, 44.8,2.5, 45.2,5.5, 45.6,5.0, 46.0,6.0, 46.4,4.5, 47.0,4.0, 47.6,4.5, 48.2,5.5, 48.6,6.5, 49.0,5.5, 49.6,3.0, 50.2,1.0, 50.8,-0.5, 51.6,-2.0, 52.4,-3.5, 53.2,-4.5, 53.6,-5.0, 54.2,-4.0, 55.0,-2.5, 55.6,-1.0, 56.2,0.5, 56.8,1.0, 57.4,0.5, 58.0,0, 58.6,0.5, 59.2,1.0, 60,1.5];
const p8Blue = [10,-0.6, 12,-1.0, 14,-1.4, 15.2,-1.5, 16.2,0, 17.2,4.5, 18.1,6.7, 19.0,5.5, 20.0,3.0, 21.2,1.5, 21.4,5.5, 21.8,5.5, 22.2,4.5, 22.5,7.5, 22.8,6.5, 23.2,7.0, 23.5,9.0, 23.9,8.0, 24.3,6.0, 24.8,3.5, 25.2,1.0, 25.6,-0.5, 26.2,-2.0, 26.8,-2.5, 27.4,-2.5, 28.0,-2.8, 28.6,-4.0, 29.2,-5.0, 29.8,-6.0, 30.4,-7.0, 31.2,-7.3, 32.4,-7.4, 33.2,-7.4, 33.4,-5.0, 33.8,-3.0, 34.2,-1.5, 34.6,-1.0, 35.0,-0.5, 35.2,0.3, 35.5,-2.0, 35.8,-4.0, 36.4,-5.0, 36.8,-6.0, 37.2,-6.5, 37.8,-6.0, 38.4,-6.5, 39.0,-6.0, 39.6,-5.0, 40.0,-1.5, 40.2,0.5, 40.6,-0.5, 41.0,1.5, 41.4,2.0, 41.8,1.5, 42.2,2.5, 42.6,3.5, 43.0,2.0, 43.6,2.5, 44.2,2.0, 44.8,2.5, 45.2,4.0, 45.5,8.5, 45.8,6.5, 46.2,7.0, 46.6,5.0, 47.2,4.5, 47.8,4.0, 48.2,4.0, 48.8,4.0, 49.4,3.0, 50.2,1.0, 51.0,-0.5, 51.8,-1.5, 52.6,-2.5, 53.4,-3.3, 54.2,-3.5, 55.0,-3.0, 55.6,-1.5, 56.2,0, 56.8,0.8, 57.4,0.5, 58.0,0.5, 58.6,-0.3, 59.2,-0.7, 60,-0.5];
const p8Green = [10,-0.6, 12,-1.0, 14,-1.4, 15.2,-1.5, 15.9,0, 16.9,5.0, 17.9,7.8, 18.8,6.0, 19.8,3.0, 20.6,1.0, 21.2,0.5, 21.4,1.0, 21.6,6.5, 22.0,5.5, 22.4,5.0, 22.8,4.0, 23.1,4.0, 23.4,6.0, 23.8,5.5, 24.2,3.0, 24.6,0, 25.0,-2.5, 25.4,-3.2, 26.0,-3.3, 26.6,-3.0, 27.2,-2.0, 27.6,-1.5, 28.2,-2.5, 28.8,-4.0, 29.4,-5.5, 30.0,-6.5, 30.8,-7.3, 32.0,-7.4, 33.2,-7.4, 33.3,2.8, 33.6,1.0, 33.9,6.0, 34.2,4.0, 34.6,3.0, 35.0,0.5, 35.4,-2.5, 35.8,-4.5, 36.2,-5.5, 36.6,-5.0, 37.0,-2.0, 37.4,-4.0, 37.8,-2.0, 38.2,-4.5, 38.6,-6.0, 39.2,-7.0, 39.6,-7.3, 40.0,-5.0, 40.4,1.0, 40.8,3.5, 41.2,3.5, 41.6,3.0, 42.0,2.0, 42.4,2.5, 42.8,3.0, 43.4,2.0, 44.0,2.0, 44.6,2.0, 45.0,3.5, 45.4,5.0, 46.0,4.5, 46.6,4.0, 47.2,4.5, 47.8,5.0, 48.4,7.0, 48.8,6.5, 49.4,4.0, 50.0,1.5, 50.6,-0.5, 51.4,-2.5, 52.2,-4.0, 53.0,-5.5, 53.6,-6.5, 54.0,-6.5, 54.6,-4.5, 55.2,-2.0, 55.8,0.5, 56.4,1.5, 57.0,1.0, 57.6,0.5, 58.2,0, 58.8,0.5, 59.4,1.5, 60,2.3];

const p9Black = [10,-0.6, 12,-1.0, 14.1,-1.5, 15.0,-1.0, 15.6,0, 16.5,3.5, 17.4,7.0, 17.7,7.6, 18.3,7.4, 19.0,5.0, 20.0,2.5, 20.8,1.0, 20.9,7.8, 21.2,7.0, 21.6,4.5, 22.0,2.5, 22.4,2.0, 22.7,3.0, 23.1,4.5, 23.5,4.0, 24.0,2.0, 24.4,0, 24.8,-0.5, 25.3,-1.5, 25.6,-1.0, 25.9,-2.0, 26.3,-2.5, 26.7,-3.0, 27.1,-1.5, 27.5,-2.0, 28.0,-3.5, 28.5,-5.0, 29.0,-6.5, 29.5,-7.5, 30.0,-8.5, 31.0,-11.0, 32.3,-10.5, 32.45,-8.5, 32.6,0, 33.0,2.5, 33.2,3.0, 33.6,1.5, 33.9,0, 34.1,2.5, 34.3,-1.0, 34.6,-0.5, 35.0,-3.0, 35.4,-4.0, 35.7,-4.8, 35.8,1.5, 36.1,1.0, 36.4,0.5, 36.7,1.0, 36.9,-1.0, 37.2,-3.0, 37.6,-4.5, 38.0,-5.5, 38.5,-6.0, 39.0,-6.5, 39.4,-6.7, 39.6,-5.0, 39.9,-2.0, 40.3,-1.0, 40.7,0.5, 41.1,0.5, 41.5,0, 41.9,0.3, 42.2,2.5, 42.5,2.0, 43.0,2.0, 43.5,2.3, 44.0,2.2, 44.5,2.5, 45.0,2.5, 45.3,3.5, 45.8,4.0, 46.3,4.5, 46.8,5.5, 47.3,6.5, 47.7,7.3, 48.0,6.8, 48.2,7.2, 48.6,6.5, 49.0,5.5, 49.5,4.0, 50.0,2.5, 50.5,0.5, 51.0,-1.0, 51.5,-2.5, 52.0,-3.5, 52.6,-4.7, 53.2,-5.7, 53.8,-6.3, 54.3,-6.5, 54.6,-5.5, 55.0,-4.5, 55.5,-3.5, 56.0,-2.0, 56.4,-0.5, 56.7,0.8, 57.2,1.0, 57.6,0.8, 58.0,1.3, 58.4,2.0, 58.9,2.3, 59.3,2.8, 59.6,3.5, 60,2.5];
const p9Red = [10,-0.6, 12,-1.0, 14.1,-1.5, 15.0,-1.0, 15.7,0, 16.6,3.5, 17.5,7.0, 17.8,7.5, 18.4,7.5, 19.1,5.0, 20.0,2.5, 20.8,1.1, 20.9,7.0, 21.2,6.5, 21.6,4.5, 22.0,3.0, 22.4,3.5, 22.7,4.0, 23.1,4.5, 23.5,4.0, 24.0,2.0, 24.4,0.2, 24.8,-0.5, 25.3,-1.5, 25.6,-1.0, 25.9,-2.0, 26.3,-2.5, 26.7,-3.0, 27.1,-1.5, 27.5,-2.0, 28.0,-3.3, 28.5,-4.7, 29.0,-6.0, 29.5,-7.0, 30.0,-8.0, 31.0,-11.0, 32.3,-10.5, 32.45,-8.5, 32.6,-1.0, 33.0,1.5, 33.2,1.8, 33.6,1.0, 33.9,-0.5, 34.1,0.5, 34.3,-1.0, 34.6,-0.8, 35.0,-3.0, 35.4,-3.8, 35.7,-4.5, 35.8,1.0, 36.1,0.8, 36.4,0.3, 36.7,0.5, 36.9,-1.5, 37.2,-3.5, 37.6,-5.0, 38.0,-6.0, 38.5,-6.5, 39.0,-6.5, 39.4,-6.5, 39.6,-5.0, 39.9,-2.0, 40.3,-0.5, 40.7,1.2, 41.1,1.2, 41.5,1.0, 41.9,1.3, 42.2,2.3, 42.5,2.0, 43.0,2.0, 43.5,2.3, 44.0,2.0, 44.5,2.3, 45.0,2.5, 45.3,3.5, 45.8,4.0, 46.3,4.5, 46.8,5.3, 47.3,6.0, 47.7,6.5, 48.0,6.5, 48.2,6.7, 48.6,6.3, 49.0,5.5, 49.5,4.0, 50.0,2.5, 50.5,0.5, 51.0,-1.0, 51.5,-2.5, 52.0,-3.5, 52.6,-4.6, 53.2,-5.6, 53.8,-6.2, 54.3,-6.4, 54.6,-5.5, 55.0,-4.5, 55.5,-3.7, 56.0,-2.3, 56.4,-0.8, 56.7,0.3, 57.2,0.6, 57.6,0.6, 58.0,1.0, 58.4,1.5, 58.9,1.8, 59.3,2.2, 59.6,2.8, 60,2.0];
const p9Blue = [10,-0.6, 12,-1.0, 14.1,-1.5, 15.0,-1.0, 15.6,0, 16.5,3.5, 17.4,7.0, 17.7,7.5, 18.3,7.4, 19.0,5.0, 20.0,2.5, 20.8,0.9, 20.9,7.6, 21.2,6.8, 21.6,4.5, 22.0,2.3, 22.4,1.8, 22.7,3.0, 23.1,4.5, 23.5,4.0, 24.0,2.0, 24.4,0, 24.8,-0.5, 25.3,-1.6, 25.6,-1.1, 25.9,-2.0, 26.3,-2.6, 26.7,-3.0, 27.1,-1.6, 27.5,-2.1, 28.0,-3.6, 28.5,-5.2, 29.0,-6.7, 29.5,-7.7, 30.0,-8.6, 31.0,-11.0, 32.3,-10.5, 32.45,-8.5, 32.6,0, 33.0,2.8, 33.2,3.0, 33.6,1.5, 33.9,0, 34.1,2.3, 34.3,-1.0, 34.6,-0.6, 35.0,-3.0, 35.4,-4.2, 35.7,-5.0, 35.8,1.3, 36.1,1.0, 36.4,0.5, 36.7,1.0, 36.9,-1.0, 37.2,-3.0, 37.6,-4.5, 38.0,-5.5, 38.5,-6.2, 39.0,-6.6, 39.4,-6.8, 39.6,-5.0, 39.9,-2.0, 40.3,-1.0, 40.7,0.3, 41.1,0.2, 41.5,-0.2, 41.9,0.2, 42.2,2.3, 42.5,2.0, 43.0,2.0, 43.5,2.2, 44.0,2.2, 44.5,2.4, 45.0,2.5, 45.3,3.4, 45.8,3.8, 46.3,4.5, 46.8,5.5, 47.3,6.6, 47.7,7.5, 48.0,6.8, 48.2,7.0, 48.6,6.5, 49.0,5.5, 49.5,4.0, 50.0,2.5, 50.5,0.5, 51.0,-1.0, 51.5,-2.5, 52.0,-3.6, 52.6,-4.8, 53.2,-5.8, 53.8,-6.3, 54.3,-6.5, 54.6,-5.5, 55.0,-4.6, 55.5,-3.5, 56.0,-2.0, 56.4,-0.5, 56.7,0.6, 57.2,0.9, 57.6,0.7, 58.0,1.2, 58.4,2.0, 58.9,2.2, 59.3,2.7, 59.6,3.2, 60,2.6];
const p9Green = [10,-0.6, 12,-1.0, 14.1,-1.5, 15.0,-1.0, 15.65,0, 16.55,3.5, 17.45,7.0, 17.75,7.5, 18.35,7.4, 19.05,5.0, 20.0,2.4, 20.8,0.8, 20.9,7.2, 21.2,6.6, 21.6,4.3, 22.0,2.6, 22.4,2.8, 22.7,4.3, 23.1,4.4, 23.5,4.0, 24.0,2.1, 24.4,0.1, 24.8,-0.6, 25.3,-1.5, 25.6,-1.0, 25.9,-2.0, 26.3,-2.6, 26.7,-3.1, 27.1,-1.6, 27.5,-2.0, 28.0,-3.4, 28.5,-4.8, 29.0,-6.2, 29.5,-7.2, 30.0,-8.2, 31.0,-11.0, 32.3,-10.5, 32.45,-8.5, 32.6,-0.5, 33.0,1.8, 33.2,2.0, 33.6,1.2, 33.9,0, 34.1,1.0, 34.3,-1.0, 34.6,-0.5, 35.0,-3.0, 35.4,-3.8, 35.7,-4.6, 35.8,1.5, 36.1,1.2, 36.4,0.8, 36.7,0.8, 36.9,-1.2, 37.2,-3.2, 37.6,-4.8, 38.0,-5.7, 38.5,-6.0, 39.0,-6.3, 39.4,-6.5, 39.6,-5.0, 39.9,-2.0, 40.3,-0.8, 40.7,1.0, 41.1,1.5, 41.5,1.3, 41.9,1.5, 42.2,3.2, 42.5,2.2, 43.0,2.0, 43.5,2.3, 44.0,2.2, 44.5,2.4, 45.0,2.5, 45.3,3.5, 45.8,4.0, 46.3,4.5, 46.8,5.4, 47.3,6.2, 47.7,6.8, 48.0,6.7, 48.2,6.9, 48.6,6.4, 49.0,5.5, 49.5,4.0, 50.0,2.5, 50.5,0.5, 51.0,-1.0, 51.5,-2.5, 52.0,-3.5, 52.6,-4.6, 53.2,-5.6, 53.8,-6.2, 54.3,-6.6, 54.6,-5.6, 55.0,-4.5, 55.5,-3.6, 56.0,-2.2, 56.4,-0.6, 56.7,0.5, 57.2,0.8, 57.6,0.8, 58.0,1.0, 58.4,1.8, 58.9,2.0, 59.3,2.4, 59.6,2.8, 60,2.3];

const panelSeries = [
  [p1Black, p1Red, p1Blue, p1Green], [p2Black, p2Red, p2Blue, p2Green], [p3Black, p3Red, p3Blue, p3Green],
  [p4Black, p4Red, p4Blue, p4Green], [p5Black, p5Red, p5Blue, p5Green], [p6Black, p6Red, p6Blue, p6Green],
  [p7Black, p7Red, p7Blue, p7Green], [p8Black, p8Red, p8Blue, p8Green], [p9Black, p9Red, p9Blue, p9Green],
];

const txt2 = ['第2波のピークが発生する時刻', 'は概ね同じ'];
const txt2W = [200, 71.6];
const txtB1 = ['第1波のピークが発生する時刻に差が生じるものの，', '大局的な位相は概ね同じである。'];
const txtB1W = [336, 217];
const txtR1 = ['第1波の水位上昇が始まる時刻', '（19分頃）は概ね同じ'];
const txtR1W = [209, 142];
const txtB3 = ['陸上地すべり（川白）に伴う上昇側の波形に若干の差が生じる', 'ものの，大局的な位相は概ね同じである。'];
const txtB3W = [410, 271.5];
const txtR3 = ['陸上地すべり（川白）により水位上昇', 'が始まる時刻（21分頃）は概ね同じ'];
const txtR3W = [242, 232.8];

type Ann =
  | { t: 'peak'; label: string; tx: number; ty: number; ax: number; ay1: number; ay2: number }
  | { t: 'box'; color: string; x: number; y: number; w: number; h: number; fs: number; lines: string[]; lw: number[]; ly: number[]; pad: number }
  | { t: 'arrow'; color: string; x1: number; y1: number; x2: number; y2: number };

const RED = '#ff0000', BLUE = '#0000ff';

const annotations: Ann[][] = [
  [
    { t: 'peak', label: '第2波のピーク', tx: 129.6, ty: 15.7, ax: 130.8, ay1: 20.7, ay2: 41 },
    { t: 'box', color: RED, x: 192, y: 6.7, w: 213, h: 45.6, fs: 14.5, lines: txt2, lw: txt2W, ly: [19.5, 38], pad: 8.3 },
  ],
  [
    { t: 'peak', label: '第2波のピーク', tx: 130.5, ty: 14.7, ax: 129.4, ay1: 19.7, ay2: 32.3 },
    { t: 'box', color: RED, x: 191.5, y: 6.7, w: 212.5, h: 45.6, fs: 14.5, lines: txt2, lw: txt2W, ly: [19.5, 38], pad: 8.3 },
  ],
  [
    { t: 'peak', label: '第2波のピーク', tx: 129.6, ty: 35.7, ax: 130, ay1: 41.3, ay2: 61.3 },
    { t: 'box', color: RED, x: 185.8, y: 6.7, w: 213.6, h: 45.6, fs: 14.5, lines: txt2, lw: txt2W, ly: [19.5, 38], pad: 8.3 },
  ],
  [
    { t: 'peak', label: '第1波のピーク', tx: 92, ty: 37, ax: 93.8, ay1: 42.7, ay2: 61 },
    { t: 'box', color: BLUE, x: 163.7, y: 37.3, w: 355.3, h: 45.4, fs: 14.3, lines: txtB1, lw: txtB1W, ly: [18.5, 38], pad: 8 },
    { t: 'arrow', color: BLUE, x1: 163.7, y1: 59.3, x2: 103.5, y2: 76.7 },
    { t: 'box', color: RED, x: 16.4, y: 190.3, w: 238.6, h: 46, fs: 15, lines: txtR1, lw: txtR1W, ly: [20, 39], pad: 8 },
    { t: 'arrow', color: RED, x1: 90.5, y1: 190.3, x2: 90.5, y2: 131 },
  ],
  [
    { t: 'peak', label: '第1波のピーク', tx: 90.9, ty: 46, ax: 90.7, ay1: 51.7, ay2: 70.3 },
    { t: 'box', color: BLUE, x: 159, y: 37.3, w: 356, h: 45.4, fs: 14.3, lines: txtB1, lw: txtB1W, ly: [18.5, 38], pad: 8 },
    { t: 'arrow', color: BLUE, x1: 159, y1: 61, x2: 102.5, y2: 81.7 },
    { t: 'box', color: RED, x: 9.6, y: 190.3, w: 238.4, h: 46, fs: 15, lines: txtR1, lw: txtR1W, ly: [20, 39], pad: 8 },
    { t: 'arrow', color: RED, x1: 89.9, y1: 190.3, x2: 89.9, y2: 131.7 },
  ],
  [
    { t: 'peak', label: '第1波のピーク', tx: 86.5, ty: 44.3, ax: 87, ay1: 49.3, ay2: 69.3 },
    { t: 'box', color: RED, x: 10.2, y: 190.3, w: 239.2, h: 46, fs: 15, lines: txtR1, lw: txtR1W, ly: [20, 39], pad: 8 },
    { t: 'arrow', color: RED, x1: 84.8, y1: 190.3, x2: 84.8, y2: 131.7 },
  ],
  [
    { t: 'box', color: BLUE, x: 98, y: -8.3, w: 423.5, h: 38.6, fs: 14.5, lines: txtB3, lw: txtB3W, ly: [17, 35], pad: 7.6 },
    { t: 'arrow', color: BLUE, x1: 123.7, y1: 36.7, x2: 123.7, y2: 50 },
    { t: 'box', color: RED, x: 18, y: 187.3, w: 257.3, h: 45.4, fs: 14.3, lines: txtR3, lw: txtR3W, ly: [19.8, 38.8], pad: 7.6 },
    { t: 'arrow', color: RED, x1: 112.8, y1: 187.3, x2: 112.8, y2: 131 },
  ],
  [
    { t: 'box', color: BLUE, x: 95.8, y: -8.3, w: 423, h: 38.6, fs: 14.5, lines: txtB3, lw: txtB3W, ly: [17, 35], pad: 7.6 },
    { t: 'arrow', color: BLUE, x1: 120.7, y1: 36, x2: 120.7, y2: 56.7 },
    { t: 'box', color: RED, x: 9.6, y: 187.3, w: 257, h: 45.4, fs: 14.3, lines: txtR3, lw: txtR3W, ly: [19.8, 38.8], pad: 7.6 },
    { t: 'arrow', color: RED, x1: 112, y1: 187.3, x2: 112, y2: 131.7 },
  ],
  [
    { t: 'box', color: RED, x: 10.6, y: 187.3, w: 257.4, h: 45.4, fs: 14.3, lines: txtR3, lw: txtR3W, ly: [19.8, 38.8], pad: 7.6 },
    { t: 'arrow', color: RED, x1: 106.5, y1: 187.3, x2: 106.5, y2: 131.7 },
  ],
];

const JP = "'Noto Sans CJK JP', 'Noto Sans', sans-serif";
const NUM = "'Liberation Sans', Arial, sans-serif";
const SERIF = "'Liberation Serif', 'Noto Sans CJK JP', serif";

function Arrow({ x1, y1, x2, y2, color, w = 2, head = 9, hw = 4.5 }: any) {
  const dx = x2 - x1, dy = y2 - y1, L = Math.hypot(dx, dy) || 1;
  const ux = dx / L, uy = dy / L;
  const bx = x2 - ux * head, by = y2 - uy * head;
  const px = -uy * hw, py = ux * hw;
  return (
    <g>
      <line x1={x1} y1={y1} x2={bx} y2={by} stroke={color} strokeWidth={w} />
      <polygon points={`${x2},${y2} ${bx + px},${by + py} ${bx - px},${by - py}`} fill={color} />
    </g>
  );
}

function pairs(flat: number[]): [number, number][] {
  const out: [number, number][] = [];
  for (let i = 0; i < flat.length; i += 2) out.push([flat[i], flat[i + 1]]);
  return out;
}

function Panel({ idx }: { idx: number }) {
  const r = Math.floor(idx / 3), c = idx % 3;
  const x0 = colX[c], y0 = rowY[r];
  const xs = d3.scaleLinear().domain([10, 60]).range([x0, x0 + PW]);
  const ys = d3.scaleLinear().domain([-15, 15]).range([y0 + PH, y0]);
  const line = d3.line<[number, number]>().x(d => xs(d[0])).y(d => ys(d[1])).curve(d3.curveLinear);
  const clipId = `clip${idx}`;
  const minutes = d3.range(11, 60);
  const units = d3.range(-14, 15);
  const lx = x0 + PW - 4.5 - 182, ly = y0 + PH - 3.5 - 57;
  const anns = annotations[idx];
  return (
    <g>
      <defs>
        <clipPath id={clipId}><rect x={x0} y={y0} width={PW} height={PH} /></clipPath>
      </defs>
      <rect x={x0} y={y0} width={PW} height={PH} fill="#fff" />
      {units.map(u => (
        <line key={u} x1={x0} x2={x0 + (u % 5 === 0 ? 5 : 3)} y1={ys(u)} y2={ys(u)} stroke="#999" strokeWidth={0.8} />
      ))}
      <line x1={x0} x2={x0 + PW} y1={ys(0)} y2={ys(0)} stroke="#333" strokeWidth={1.8} />
      {minutes.map(m => {
        const big = m % 10 === 0;
        return <line key={m} x1={xs(m)} x2={xs(m)} y1={ys(0) - (big ? 5 : 3.2)} y2={ys(0) + (big ? 5 : 3.2)} stroke="#333" strokeWidth={1} />;
      })}
      <g clipPath={`url(#${clipId})`}>
        {drawOrder.map(si => (
          <path key={si} d={line(pairs(panelSeries[idx][si])) || ''} fill="none" stroke={seriesColors[si]} strokeWidth={1.3} strokeLinejoin="round" />
        ))}
      </g>
      <rect x={x0} y={y0} width={PW} height={PH} fill="none" stroke="#7a7a7a" strokeWidth={1.5} />
      {yTickValues.map((v, i) => (
        <text key={v} x={x0 - 19.5} y={ys(v)} dy="0.36em" textAnchor="end" fontFamily={NUM} fontSize={14} letterSpacing={-0.4} fill="#222">{yTickLabels[i]}</text>
      ))}
      {xTickValues.map(v => (
        <text key={v} x={xs(v)} y={y0 + PH + 22} textAnchor="middle" fontFamily={NUM} fontSize={14} letterSpacing={-0.4} fill="#222">{v}</text>
      ))}
      <text x={x0 + PW / 2 - 4} y={y0 + PH + 43} textAnchor="middle" fontFamily={JP} fontSize={14} fill="#222">時　間　（分）</text>
      <text x={x0 - 68} y={y0 + 73} dy="0.35em" textAnchor="middle" fontFamily={JP} fontSize={14} fill="#222">水</text>
      <text x={x0 - 68} y={y0 + 107} dy="0.35em" textAnchor="middle" fontFamily={JP} fontSize={14} fill="#222">位</text>
      <text x={x0 - 68} y={y0 + 156} dy="0.35em" textAnchor="middle" fontFamily={JP} fontSize={13} fill="#222" transform={`rotate(90 ${x0 - 68} ${y0 + 156})`}>( m )</text>
      {/* legend */}
      <rect x={lx} y={ly} width={182} height={57} fill="#fff" stroke="#000" strokeWidth={1.5} />
      <text x={lx + 91} y={ly + 8.5} dy="0.35em" textAnchor="middle" fontFamily={JP} fontWeight={700} fontSize={8.5} fill="#000">【凡 例】</text>
      {seriesNames.map((n, i) => {
        const yy = ly + 19.3 + i * 10.2;
        return (
          <g key={n}>
            <line x1={lx + 8.5} x2={lx + 31.5} y1={yy} y2={yy} stroke={seriesColors[i]} strokeWidth={1.6} />
            <text x={lx + 36.5} y={yy} dy="0.35em" fontFamily={JP} fontWeight={700} fontSize={8.2} fill="#000">{n}</text>
          </g>
        );
      })}
      {/* annotations */}
      {anns.map((a, k) => {
        if (a.t === 'peak') {
          return (
            <g key={k}>
              <text x={x0 + a.tx} y={y0 + a.ty} textAnchor="middle" fontFamily={SERIF} fontSize={15.5} fill="#333">{a.label}</text>
              <Arrow x1={x0 + a.ax} y1={y0 + a.ay1} x2={x0 + a.ax} y2={y0 + a.ay2} color="#000" w={2.2} head={9} hw={4.5} />
            </g>
          );
        }
        if (a.t === 'box') {
          return (
            <g key={k}>
              <rect x={x0 + a.x} y={y0 + a.y} width={a.w} height={a.h} fill="#fff" stroke={a.color} strokeWidth={1.8} />
              {a.lines.map((s, j) => (
                <text key={j} x={x0 + a.x + a.pad} y={y0 + a.y + a.ly[j]} fontFamily={JP} fontWeight={700} fontSize={a.fs} fill={a.color}
                  textLength={a.lw[j]} lengthAdjust="spacingAndGlyphs">{s}</text>
              ))}
            </g>
          );
        }
        return <Arrow key={k} x1={x0 + a.x1} y1={y0 + a.y1} x2={x0 + a.x2} y2={y0 + a.y2} color={a.color} w={2} head={9} hw={4.5} />;
      })}
    </g>
  );
}

export default function App() {
  const rowBounds = [46.5, 379, 712, H];
  return (
    <svg width={W} height={H} viewBox={`0 0 ${W} ${H}`} style={{ position: 'absolute', left: 0, top: 0, display: 'block', background: '#fff' }} fontFamily={JP}>
      <rect x={0} y={0} width={W} height={H} fill="#fff" />
      <rect x={0} y={17} width={W} height={29.5} fill="#c0c0c0" />
      <rect x={0} y={17} width={36} height={H - 17} fill="#c0c0c0" />
      {columnTitles.map((t, i) => {
        const cx = (colLines[i] + (i < 2 ? colLines[i + 1] : W)) / 2;
        return <text key={i} x={cx} y={33} dy="0.35em" textAnchor="middle" fontFamily={JP} fontWeight={700} fontSize={17.5} fill="#111">{t}</text>;
      })}
      {rowTitles.map((t, i) => (
        <text key={i} x={16} y={(rowBounds[i] + rowBounds[i + 1]) / 2 - 3} textAnchor="middle" fontFamily={JP} fontWeight={700} fontSize={18} fill="#000"
          style={{ writingMode: 'vertical-rl' }}>{t}</text>
      ))}
      {d3.range(9).map(i => <Panel key={i} idx={i} />)}
      <line x1={0} x2={W} y1={17} y2={17} stroke="#000" strokeWidth={3} />
      <line x1={0} x2={W} y1={46.5} y2={46.5} stroke="#000" strokeWidth={2.5} />
      <line x1={0} x2={W} y1={379} y2={379} stroke="#000" strokeWidth={2.5} />
      <line x1={0} x2={W} y1={712} y2={712} stroke="#000" strokeWidth={2.5} />
      {colLines.map(x => <line key={x} x1={x} x2={x} y1={17} y2={H} stroke="#000" strokeWidth={2.5} />)}
      <line x1={W - 1} x2={W - 1} y1={17} y2={46.5} stroke="#000" strokeWidth={2} />
    </svg>
  );
}
